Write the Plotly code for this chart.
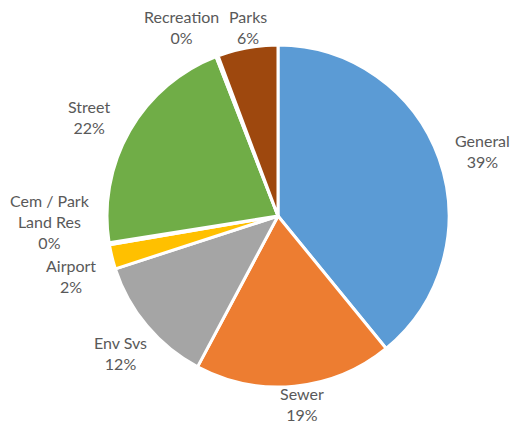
import plotly.graph_objects as go

labels = ["General", "Sewer", "Env Svs", "Airport", "Cem / Park<br>Land Res", "Street", "Recreation", "Parks"]
values = [39.1, 18.7, 12.2, 2.3, 0.2, 21.6, 0.2, 5.7]
colors = ["#5B9BD5", "#ED7D31", "#A5A5A5", "#FFC000", "#4472C4", "#70AD47", "#264478", "#9E480E"]

# label centre positions in pixels (x, y from top)
label_pos = [(482, 151), (302, 404), (120, 353), (71, 276), (50, 221), (89, 117), (181, 27), (248, 27)]

W, H = 513, 424
cx, cy, r = 278, 216, 171

fig = go.Figure(go.Pie(
    labels=labels, values=values, sort=False, direction="clockwise", rotation=0,
    marker=dict(colors=colors, line=dict(color="white", width=3)),
    textinfo="none", hoverinfo="label+percent", showlegend=False,
    domain=dict(x=[(cx - r) / W, (cx + r) / W], y=[(H - cy - r) / H, (H - cy + r) / H]),
))

total = sum(values)
for lab, v, (px, py) in zip(labels, values, label_pos):
    fig.add_annotation(
        x=px / W, y=1 - py / H, xref="paper", yref="paper",
        text=f"{lab}<br>{round(v / total * 100)}%", showarrow=False,
        xanchor="center", yanchor="middle", align="center",
        font=dict(family="Lato, Liberation Sans, sans-serif", size=16, color="#595959"),
    )

fig.update_layout(width=W, height=H, margin=dict(l=0, r=0, t=0, b=0),
                  paper_bgcolor="white", plot_bgcolor="white")
fig.write_html("out.html", config={"displayModeBar": False},
               post_script="document.body.style.margin='0';document.body.style.overflow='hidden';")
